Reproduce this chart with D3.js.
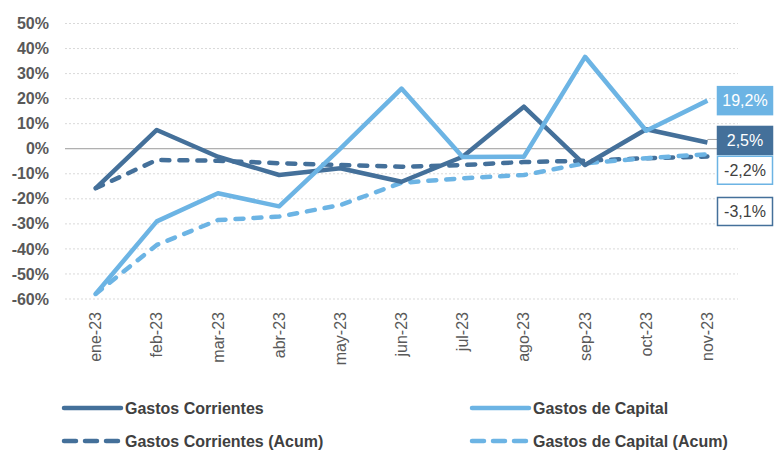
<!DOCTYPE html>
<html>
<head>
<meta charset="utf-8">
<script src="https://cdn.jsdelivr.net/npm/d3@7"></script>
<style>
body { margin: 0; background: #fff; }
text { font-family: "Liberation Sans", Arial, sans-serif; }
</style>
</head>
<body>
<svg id="chart" width="774" height="452"></svg>
<script>
var months = ["ene-23", "feb-23", "mar-23", "abr-23", "may-23", "jun-23", "jul-23", "ago-23", "sep-23", "oct-23", "nov-23"];
var yTicks = [-0.6, -0.5, -0.4, -0.3, -0.2, -0.1, 0, 0.1, 0.2, 0.3, 0.4, 0.5];

// variacion %
var gastosCorrientes = [-15.8, 7.5, -3.2, -10.5, -7.8, -13.2, -3.2, 16.8, -6.5, 7.8, 2.5];
var gastosCapital = [-58, -29, -17.8, -23, 0, 24, -3.3, -3.2, 36.7, 7.2, 19.2];
var corrientesAcum = [-15.8, -4.5, -4.8, -5.8, -6.5, -7.2, -6.5, -5.3, -4.8, -3.8, -3.1];
var capitalAcum = [-58, -38.4, -28.5, -27.1, -22.5, -13.6, -11.8, -10.5, -5.8, -3.8, -2.2];

var seriesNames = ["Gastos Corrientes", "Gastos de Capital", "Gastos Corrientes (Acum)", "Gastos de Capital (Acum)"];

var DARK = "#44709a";
var LIGHT = "#6cb4e4";

var svg = d3.select("#chart");

var x = d3.scalePoint().domain(months).range([65, 738]).padding(0.5);
var y = d3.scaleLinear().domain([-0.6, 0.5]).range([299, 23.5]);

// gridlines
svg.append("g")
  .selectAll("line")
  .data(yTicks.filter(function(d) { return d !== 0; }))
  .enter()
  .append("line")
  .attr("x1", 65).attr("x2", 738)
  .attr("y1", function(d) { return y(d); })
  .attr("y2", function(d) { return y(d); })
  .attr("stroke", "#d9d9d9")
  .attr("stroke-dasharray", "2,2");

svg.append("line")
  .attr("x1", 65).attr("x2", 738)
  .attr("y1", y(0)).attr("y2", y(0))
  .attr("stroke", "#9a9a9a");

// y axis labels
var yAxis = svg.append("g")
  .attr("transform", "translate(49,0)")
  .call(d3.axisLeft(y).tickValues(yTicks).tickSize(0).tickPadding(0).tickFormat(d3.format(".0%")));
yAxis.select(".domain").remove();
yAxis.selectAll("text")
  .attr("fill", "#595959")
  .attr("font-size", "16px")
  .attr("font-weight", "bold")
  .attr("font-family", "Liberation Sans, Arial, sans-serif")
  .text(function(d) { return Math.round(d * 100) + "%"; });

// x axis labels (rotated)
svg.append("g")
  .selectAll("text")
  .data(months)
  .enter()
  .append("text")
  .attr("transform", function(d) { return "translate(" + x(d) + ",312) rotate(-90)"; })
  .attr("text-anchor", "end")
  .attr("dy", "0.35em")
  .attr("fill", "#595959")
  .attr("font-size", "16px")
  .text(function(d) { return d; });

var line = d3.line()
  .x(function(d, i) { return x(months[i]); })
  .y(function(d) { return y(d / 100); });

var series = [
  {name: seriesNames[2], values: corrientesAcum, color: DARK, dash: "8,10"},
  {name: seriesNames[3], values: capitalAcum, color: LIGHT, dash: "8,10"},
  {name: seriesNames[0], values: gastosCorrientes, color: DARK, dash: null},
  {name: seriesNames[1], values: gastosCapital, color: LIGHT, dash: null}
];

svg.append("g")
  .selectAll("path")
  .data(series)
  .enter()
  .append("path")
  .attr("d", function(s) { return line(s.values); })
  .attr("fill", "none")
  .attr("stroke", function(s) { return s.color; })
  .attr("stroke-width", 4.5)
  .attr("stroke-linejoin", "round")
  .attr("stroke-linecap", function(s) { return s.dash ? "round" : "butt"; })
  .attr("stroke-dasharray", function(s) { return s.dash; });

// end labels
var last = months.length - 1;
var endLabels = [
  {values: gastosCapital, fill: LIGHT, stroke: LIGHT, text: "#fff", dy: 0},
  {values: gastosCorrientes, fill: DARK, stroke: DARK, text: "#fff", dy: -2},
  {values: capitalAcum, fill: "#fff", stroke: LIGHT, text: "#404040", dy: 16},
  {values: corrientesAcum, fill: "#fff", stroke: DARK, text: "#404040", dy: 55}
];

// leader line for the 2,5% label
svg.append("line")
  .attr("x1", x(months[last])).attr("x2", 718)
  .attr("y1", y(gastosCorrientes[last] / 100) - 3)
  .attr("y2", y(gastosCorrientes[last] / 100) - 3)
  .attr("stroke", "#a6a6a6");

var lab = svg.append("g")
  .selectAll("g")
  .data(endLabels)
  .enter()
  .append("g")
  .attr("transform", function(d) { return "translate(717," + (y(d.values[last] / 100) + d.dy) + ")"; });

lab.append("rect")
  .attr("x", 0.5).attr("y", -14)
  .attr("width", 55).attr("height", 28)
  .attr("fill", function(d) { return d.fill; })
  .attr("stroke", function(d) { return d.stroke; })
  .attr("stroke-width", 1.5);

lab.append("text")
  .attr("x", 28).attr("dy", "0.36em")
  .attr("text-anchor", "middle")
  .attr("font-size", "16px")
  .attr("fill", function(d) { return d.text; })
  .text(function(d) { return d.values[last].toFixed(1).replace(".", ",") + "%"; });

// legend
var legendItems = [
  {name: seriesNames[0], color: DARK, dash: null, lx: 62, ly: 408},
  {name: seriesNames[1], color: LIGHT, dash: null, lx: 470, ly: 408},
  {name: seriesNames[2], color: DARK, dash: "12,9", lx: 62, ly: 441},
  {name: seriesNames[3], color: LIGHT, dash: "12,9", lx: 470, ly: 441}
];

var leg = svg.append("g")
  .selectAll("g")
  .data(legendItems)
  .enter()
  .append("g")
  .attr("transform", function(d) { return "translate(" + d.lx + "," + d.ly + ")"; });

leg.append("line")
  .attr("x1", 2).attr("x2", 59)
  .attr("stroke", function(d) { return d.color; })
  .attr("stroke-width", 4.5)
  .attr("stroke-linecap", "round")
  .attr("stroke-dasharray", function(d) { return d.dash; });

leg.append("text")
  .attr("x", 63).attr("dy", "0.35em")
  .attr("font-size", "16px")
  .attr("font-weight", "bold")
  .attr("fill", "#404040")
  .text(function(d) { return d.name; });
</script>
</body>
</html>
